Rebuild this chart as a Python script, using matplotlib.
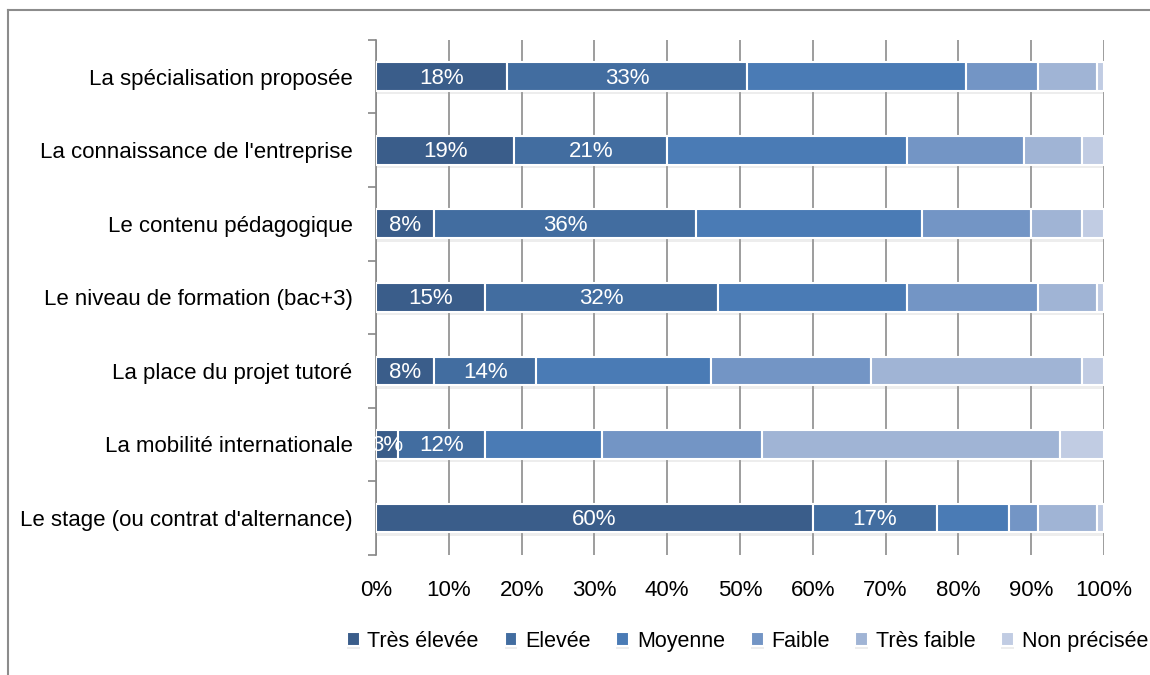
import numpy as np
import matplotlib.pyplot as plt
import matplotlib.patheffects as pe

plt.rcParams['font.family'] = ['Liberation Sans', 'DejaVu Sans']

# ---------------------- données ----------------------
categories = [
    "La spécialisation proposée",
    "La connaissance de l'entreprise",
    "Le contenu pédagogique",
    "Le niveau de formation (bac+3)",
    "La place du projet tutoré",
    "La mobilité internationale",
    "Le stage (ou contrat d'alternance)",
]
series_names = ["Très élevée", "Elevée", "Moyenne", "Faible", "Très faible", "Non précisée"]
tres_elevee = [18, 19, 8, 15, 8, 3, 60]
elevee = [33, 21, 36, 32, 14, 12, 17]
moyenne = [30, 33, 31, 26, 24, 16, 10]
faible = [10, 16, 15, 18, 22, 22, 4]
tres_faible = [8, 8, 7, 8, 29, 41, 8]
non_precisee = [1, 3, 3, 1, 3, 6, 1]
colors = ['#3A5D8A', '#426DA0', '#4A7BB5', '#7395C5', '#A0B4D5', '#C1CCE3']
labelled = [True, True, False, False, False, False]

series = [tres_elevee, elevee, moyenne, faible, tres_faible, non_precisee]

# ---------------------- tracé ----------------------
fig = plt.figure(figsize=(11.5, 6.75), dpi=100)
ax = fig.add_axes([0.327, 0.178, 0.633, 0.763])

# ombre légère sous les barres
shadow = [pe.SimplePatchShadow(offset=(0, -2.5), shadow_rgbFace='#a0a0a0', alpha=0.18), pe.Normal()]

y = np.arange(len(categories))
left = np.zeros(len(categories))
for vals, name, col, lab in zip(series, series_names, colors, labelled):
    vals = np.array(vals, dtype=float)
    bars = ax.barh(y, vals, left=left, height=0.39, color=col, edgecolor='white',
                   linewidth=1.5, label=name, zorder=3)
    for b in bars:
        b.set_path_effects(shadow)
    if lab:
        for b, v in zip(bars, vals):
            ax.text(b.get_x() + b.get_width() / 2, b.get_y() + b.get_height() / 2 + 0.02,
                    f"{int(v)}%", ha='center', va='center', color='white',
                    fontsize=16, zorder=4)
    left += vals

ax.set_xlim(0, 100)
ax.set_ylim(len(categories) - 0.5, -0.5)
ax.set_xticks(np.arange(0, 101, 10))
ax.set_xticklabels([f"{t}%" for t in range(0, 101, 10)], fontsize=16)
ax.set_yticks(y)
ax.set_yticklabels(categories, fontsize=16)
ax.set_yticks(np.arange(-0.5, len(categories), 1), minor=True)
ax.tick_params(axis='y', which='major', length=0, pad=17)
ax.tick_params(axis='y', which='minor', length=6, color='#888888', width=1.2)
ax.tick_params(axis='x', length=0, pad=18)
ax.grid(axis='x', color='#8c8c8c', linewidth=1.2, zorder=0)
for s in ['top', 'right', 'bottom']:
    ax.spines[s].set_visible(False)
ax.spines['left'].set_color('#888888')
ax.spines['left'].set_linewidth(1.2)

leg = fig.legend(loc='center', bbox_to_anchor=(0.65, 0.05), ncol=6, frameon=False,
                 fontsize=15.5, handlelength=0.6, handleheight=0.6, columnspacing=1.2,
                 handletextpad=0.35)

# cadre du graphique (bords gauche et haut seulement)
fig.add_artist(plt.Line2D([8 / 1150, 8 / 1150], [0, 1 - 10 / 675], color='#8c8c8c',
                          linewidth=1.5, transform=fig.transFigure))
fig.add_artist(plt.Line2D([8 / 1150, 1], [1 - 10 / 675, 1 - 10 / 675], color='#8c8c8c',
                          linewidth=1.5, transform=fig.transFigure))

fig.savefig('out.png', dpi=100)
